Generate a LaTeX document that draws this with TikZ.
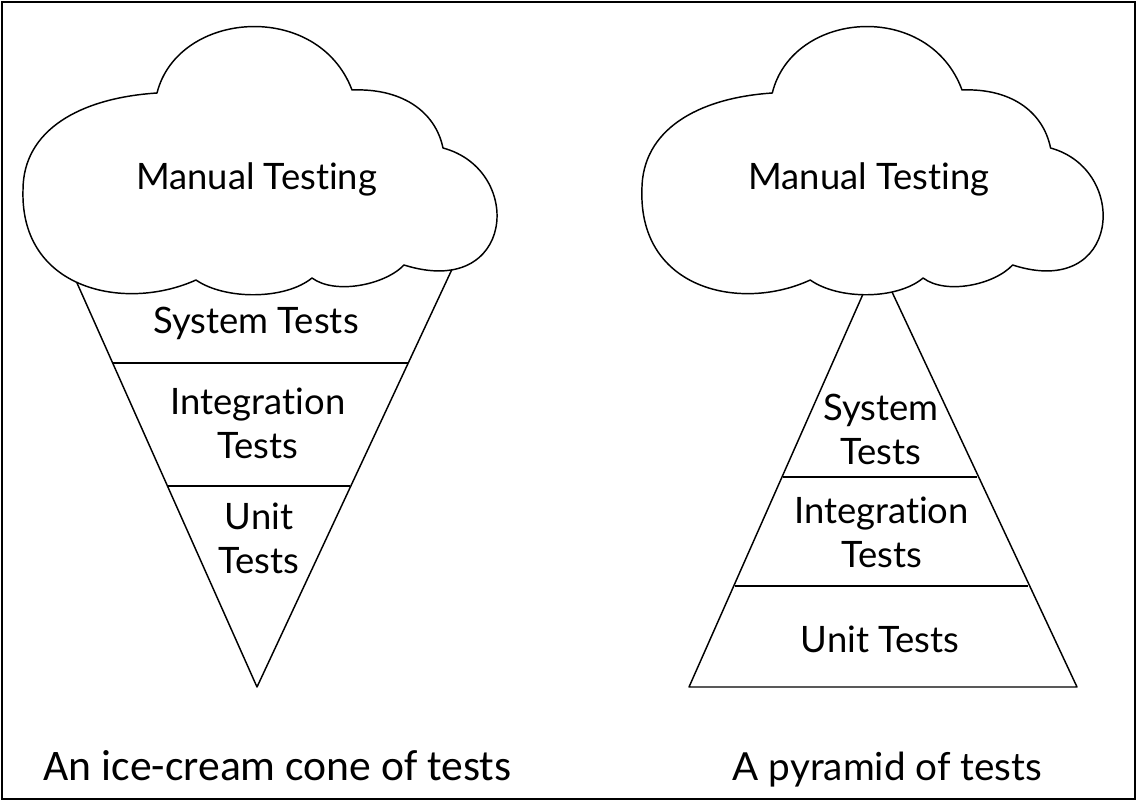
\documentclass[tikz,border=0pt]{standalone}
\usepackage{fontspec}
\setmainfont{Lato}[Ligatures={NoCommon}]
\newfontfamily\capfont{Carlito}
\begin{document}
\begin{tikzpicture}[x=0.75pt,y=-0.75pt,
  outline/.style={draw=black,line width=1.1pt,line join=round},
  cloudshape/.style={outline,fill=white},
  lbl/.style={font=\fontsize{27.3}{33}\selectfont,align=center,anchor=base,inner sep=0pt},
  caption/.style={anchor=base,inner sep=0pt},
  frame/.style={draw=black,line width=2.2pt}
]
\useasboundingbox (0,0) rectangle (1137,802);
\draw[frame] (2,2) rectangle (1135,799);

% ---------- ice-cream cone ----------
\coordinate (cTL) at (69,265);
\coordinate (cTR) at (461,250);
\coordinate (cTip) at (257,687);
\coordinate (c1L) at (113,363);
\coordinate (c1R) at (408,363);
\coordinate (c2L) at (168,486);
\coordinate (c2R) at (350,486);
\draw[outline] (cTL) -- (cTip) -- (cTR);
\draw[outline] (c1L) -- (c1R);
\draw[outline] (c2L) -- (c2R);

% ---------- pyramid ----------
\coordinate (pTL) at (871,276);
\coordinate (pTR) at (885,277);
\coordinate (pBL) at (689,687);
\coordinate (pBR) at (1077,687);
\coordinate (p1L) at (783,477);
\coordinate (p1R) at (977,477);
\coordinate (p2L) at (735,586);
\coordinate (p2R) at (1028,586);
\draw[outline] (pTL) -- (pBL) -- (pBR) -- (pTR);
\draw[outline] (p1L) -- (p1R);
\draw[outline] (p2L) -- (p2R);

% ---------- clouds ----------
\newcommand\cloudpath{%
  (-103,93) .. controls (-82,10) and (58,0) .. (92,90)
  .. controls (140,88) and (175,110) .. (183,148)
  .. controls (265,170) and (255,300) .. (144,265)
  .. controls (125,285) and (75,295) .. (52,278)
  .. controls (25,300) and (-35,300) .. (-64,280)
  .. controls (-135,312) and (-240,290) .. (-237,190)
  .. controls (-237,130) and (-180,98) .. (-103,93) -- cycle}
\begin{scope}[shift={(260,0)}]
  \draw[cloudshape] \cloudpath;
\end{scope}
\begin{scope}[shift={(872.5,0)},xscale=0.973]
  \draw[cloudshape] \cloudpath;
\end{scope}

% ---------- labels ----------
\node[lbl] (mtL) at (256.5,190) {Manual Testing};
\node[lbl] (mtR) at (869,190) {Manual Testing};

\node[lbl] (sysL) at (256,333) {System Tests};
\node[lbl] (intL) at (258,458) {Integration\\Tests};
\node[lbl] (unitL) at (259,573) {Unit\\Tests};

\node[lbl] (sysR) at (881,464) {System\\Tests};
\node[lbl] (intR) at (881.5,567) {Integration\\Tests};
\node[lbl] (unitR) at (880,652) {Unit Tests};

\node[caption,font=\capfont\fontsize{32.7}{38}\selectfont] (capL) at (277.5,780) {An ice-cream cone of tests};
\node[caption,font=\fontsize{29}{33}\selectfont] (capR) at (887.5,780) {A pyramid of tests};
\end{tikzpicture}
\end{document}
